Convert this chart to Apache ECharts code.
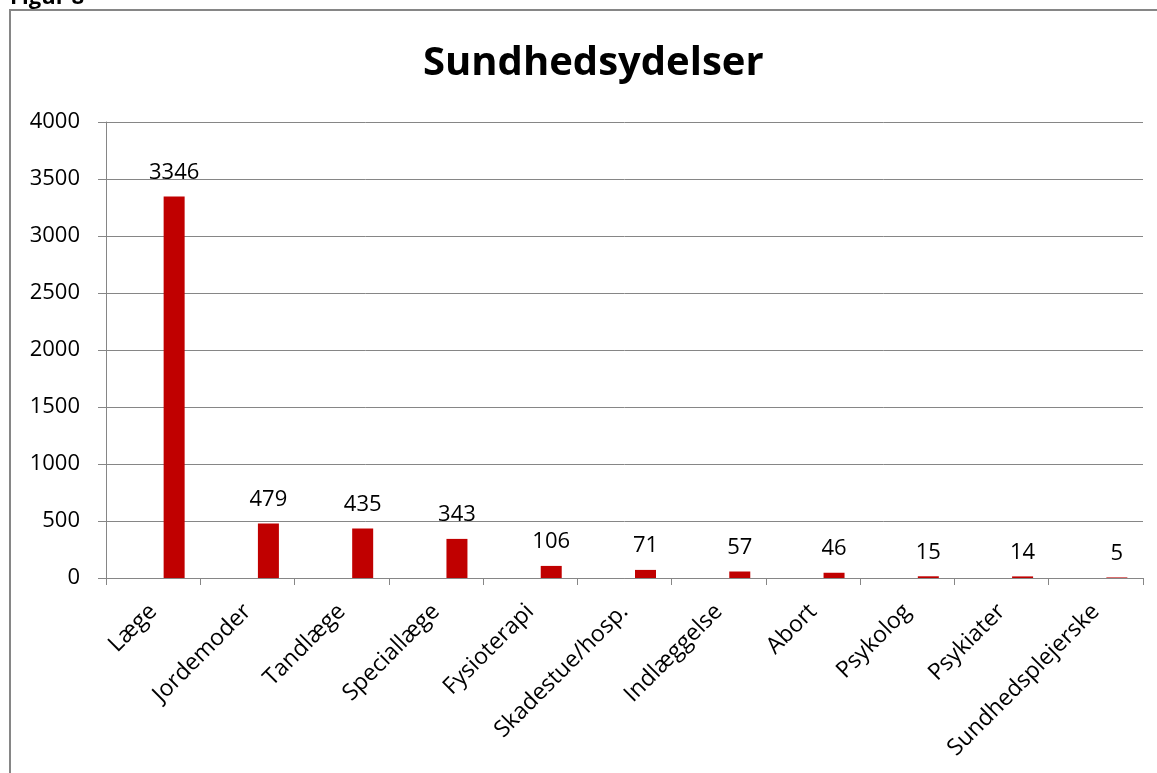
<!DOCTYPE html>
<html>
<head>
<meta charset="UTF-8">
<title>Sundhedsydelser</title>
<script src="https://cdn.jsdelivr.net/npm/echarts@6/dist/echarts.min.js"></script>
</head>
<body style="margin:0;">
<div id="main" style="width:1157px;height:773px;"></div>
<script type="text/javascript">
    var categories = ['Læge', 'Jordemoder', 'Tandlæge', 'Speciallæge', 'Fysioterapi', 'Skadestue/hosp.', 'Indlæggelse', 'Abort', 'Psykolog', 'Psykiater', 'Sundhedsplejerske'];
    var values = [3346, 479, 435, 343, 106, 71, 57, 46, 15, 14, 5];
    // tomme serier som i Excel-arket, saa soejlen sidder til hoejre i kategorien
    var emptyA = categories.map(function () { return '-'; });
    var emptyB = categories.map(function () { return '-'; });

    var font = '"Open Sans", sans-serif';
    var grey = '#868686';

    var chart = echarts.init(document.getElementById('main'));
    var option = {
        animation: false,
        textStyle: { fontFamily: font },
        graphic: [
            {
                type: 'rect',
                shape: { x: 10, y: 10, width: 1160, height: 780 },
                style: { fill: 'none', stroke: grey, lineWidth: 2 }
            },
            {
                type: 'text',
                x: 10,
                y: 9,
                style: { text: 'Figur 8', font: 'bold 22px ' + font, fill: '#000', verticalAlign: 'bottom' }
            }
        ],
        title: {
            text: 'Sundhedsydelser',
            left: 418,
            top: 39,
            textStyle: { fontSize: 40, fontWeight: 'bold', color: '#000', fontFamily: font }
        },
        grid: { left: 106, right: 14, top: 122, bottom: 195, containLabel: false },
        xAxis: {
            type: 'category',
            data: categories,
            axisLine: { lineStyle: { color: grey, width: 1 } },
            axisTick: { show: true, length: 7, lineStyle: { color: grey } },
            axisLabel: { rotate: 45, fontSize: 23, color: '#000', margin: 30, interval: 0 }
        },
        yAxis: {
            type: 'value',
            min: 0,
            max: 4000,
            interval: 500,
            axisLine: { show: true, lineStyle: { color: grey, width: 1 } },
            axisTick: { show: true, length: 8, lineStyle: { color: grey } },
            axisLabel: { fontSize: 22, color: '#000', margin: 26, formatter: function (v) { return String(v); } },
            splitLine: { lineStyle: { color: grey, width: 1 } }
        },
        series: [
            { type: 'bar', data: emptyA, barWidth: 21, barGap: '0%' },
            { type: 'bar', data: emptyB, barWidth: 21, barGap: '0%' },
            {
                type: 'bar',
                data: values,
                barWidth: 21,
                barGap: '0%',
                itemStyle: { color: '#c00000' },
                label: { show: true, position: 'top', distance: 13, fontSize: 22, color: '#000' }
            }
        ]
    };
    chart.setOption(option);
</script>
</body>
</html>
